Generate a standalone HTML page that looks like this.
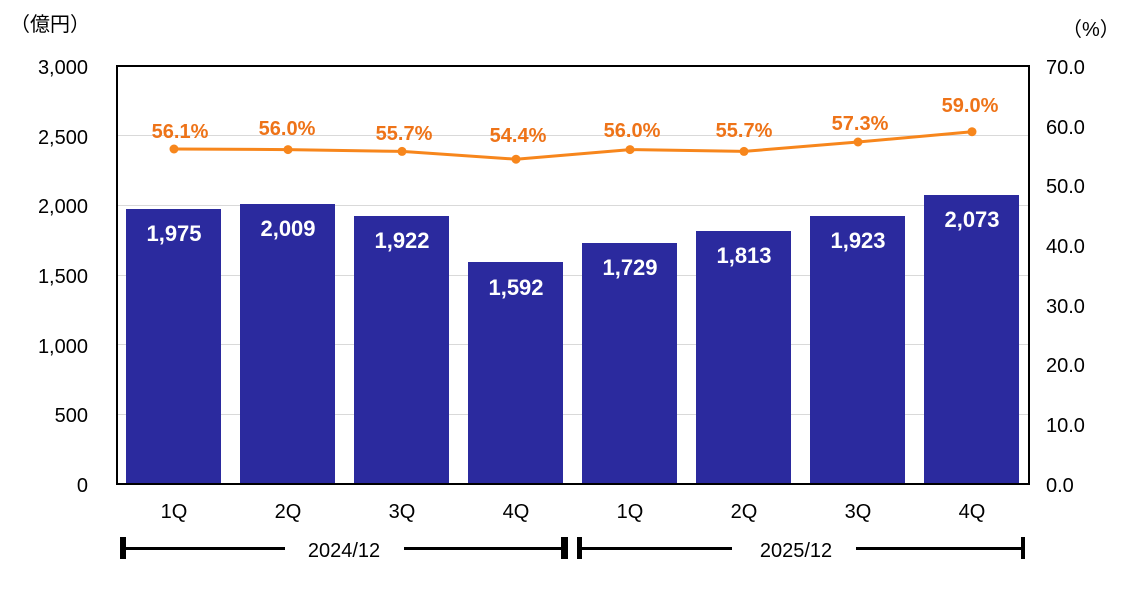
<!DOCTYPE html>
<html><head><meta charset="utf-8"><style>
body{margin:0;background:#fff}
svg text{font-family:"Liberation Sans","Noto Sans CJK JP",sans-serif}
</style></head><body>
<svg width="1132" height="590" viewBox="0 0 1132 590" xmlns="http://www.w3.org/2000/svg">
<g stroke="#d9d9d9" stroke-width="1">
<line x1="117" x2="1029" y1="135.5" y2="135.5"/>
<line x1="117" x2="1029" y1="205.5" y2="205.5"/>
<line x1="117" x2="1029" y1="275.5" y2="275.5"/>
<line x1="117" x2="1029" y1="344.5" y2="344.5"/>
<line x1="117" x2="1029" y1="414.5" y2="414.5"/>
</g>
<g fill="#2b2a9e">
<rect x="126" y="209" width="95" height="275"/>
<rect x="240" y="204" width="95" height="280"/>
<rect x="354" y="216" width="95" height="268"/>
<rect x="468" y="262" width="95" height="222"/>
<rect x="582" y="243" width="95" height="241"/>
<rect x="696" y="231" width="95" height="253"/>
<rect x="810" y="216" width="95" height="268"/>
<rect x="924" y="195" width="95" height="289"/>
</g>
<rect x="117" y="66" width="912" height="418" fill="none" stroke="#000" stroke-width="2"/>
<g fill="#fff" font-weight="bold" font-size="22" text-anchor="middle">
<text x="174" y="241">1,975</text><text x="288" y="236">2,009</text>
<text x="402" y="248">1,922</text><text x="516" y="295">1,592</text>
<text x="630" y="275">1,729</text><text x="744" y="263">1,813</text>
<text x="858" y="248">1,923</text><text x="972" y="227">2,073</text>
</g>
<polyline fill="none" stroke="#f7861c" stroke-width="3" points="174,149 288,149.6 402,151.4 516,159.2 630,149.6 744,151.4 858,142 972,131.7"/>
<g fill="#f7861c">
<circle cx="174" cy="149" r="4.5"/><circle cx="288" cy="149.6" r="4.5"/><circle cx="402" cy="151.4" r="4.5"/><circle cx="516" cy="159.2" r="4.5"/><circle cx="630" cy="149.6" r="4.5"/><circle cx="744" cy="151.4" r="4.5"/><circle cx="858" cy="142" r="4.5"/><circle cx="972" cy="131.7" r="4.5"/>
</g>
<g fill="#ee7318" font-weight="bold" font-size="20" text-anchor="middle">
<text x="180" y="138">56.1%</text><text x="287" y="135">56.0%</text><text x="404" y="140">55.7%</text><text x="518" y="142">54.4%</text><text x="632" y="137">56.0%</text><text x="744" y="137">55.7%</text><text x="860" y="130">57.3%</text><text x="970" y="112">59.0%</text>
</g>
<g font-size="20" fill="#000" text-anchor="end">
<text x="88" y="74">3,000</text><text x="88" y="144">2,500</text><text x="88" y="213">2,000</text><text x="88" y="283">1,500</text><text x="88" y="353">1,000</text><text x="88" y="422">500</text><text x="88" y="492">0</text>
</g>
<g font-size="20" fill="#000" text-anchor="start">
<text x="1046" y="74">70.0</text><text x="1046" y="134">60.0</text><text x="1046" y="193">50.0</text><text x="1046" y="253">40.0</text><text x="1046" y="313">30.0</text><text x="1046" y="372">20.0</text><text x="1046" y="432">10.0</text><text x="1046" y="492">0.0</text>
</g>
<text x="10" y="31" font-size="20">（億円）</text>
<text x="1062" y="36" font-size="20">（%）</text>
<g font-size="20" text-anchor="middle">
<text x="174" y="518">1Q</text><text x="288" y="518">2Q</text><text x="402" y="518">3Q</text><text x="516" y="518">4Q</text><text x="630" y="518">1Q</text><text x="744" y="518">2Q</text><text x="858" y="518">3Q</text><text x="972" y="518">4Q</text>
<text x="344" y="557">2024/12</text><text x="796" y="557">2025/12</text>
</g>
<g fill="#000">
<rect x="120" y="537" width="6" height="22"/><rect x="126" y="547" width="159" height="3"/><rect x="404" y="547" width="157" height="3"/><rect x="561" y="537" width="7" height="22"/>
<rect x="577" y="537" width="5" height="22"/><rect x="582" y="547" width="150" height="3"/><rect x="856" y="547" width="166" height="3"/><rect x="1021" y="537" width="4" height="22"/>
</g>
</svg>
</body></html>
